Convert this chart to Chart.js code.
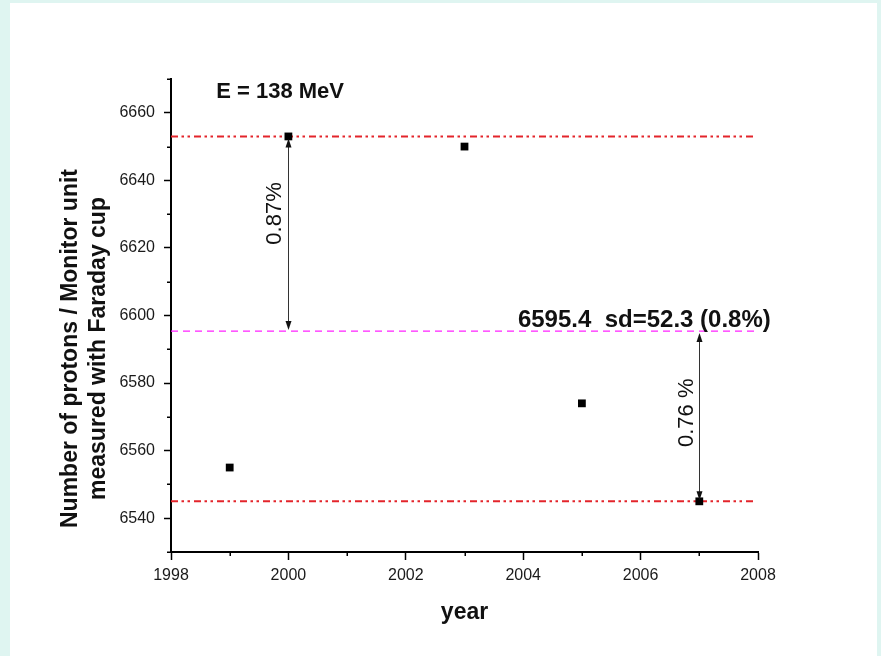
<!DOCTYPE html>
<html><head><meta charset="utf-8">
<script src="https://cdn.jsdelivr.net/npm/chart.js@4/dist/chart.umd.min.js"></script>
<style>
html,body{margin:0;padding:0;background:#dff5f1;}
#wrap{position:absolute;left:0;top:0;width:881px;height:656px;overflow:hidden;background:#dff5f1;}
#panel{position:absolute;left:10px;top:3px;width:867px;height:653px;background:#fff;}
canvas{position:absolute;left:0;top:0;}
</style></head><body>
<div id="wrap"><div id="panel"></div><canvas id="c" width="881" height="656"></canvas></div>
<script>
// ---- data ----
const years = [1999, 2000, 2003, 2005, 2007];
const protonsPerMU = [6555, 6653, 6650, 6574, 6545];
const meanValue = 6595.4;
const upperLimit = 6653;
const lowerLimit = 6545;
const xTickLabels = ['1998', '2000', '2002', '2004', '2006', '2008'];
const yTickLabels = ['6540', '6560', '6580', '6600', '6620', '6640', '6660'];
const xRange = [1998, 2008];
const yRange = [6530, 6670];
const refLineEnd = 2007.94;
const titleText = 'E = 138 MeV';
const meanText = '6595.4  sd=52.3 (0.8%)';
const upperPctText = '0.87%';
const lowerPctText = '0.76 %';
const xTitle = 'year';
const yTitle = ['Number of protons / Monitor unit', 'measured with Faraday cup'];

const FONT = '"Liberation Sans", Arial, sans-serif';

const points = years.map((yr, i) => ({x: yr, y: protonsPerMU[i]}));
const hLine = v => [{x: xRange[0], y: v}, {x: refLineEnd, y: v}];

const annot = {
  id: 'annot',
  afterDatasetsDraw(chart) {
    const ctx = chart.ctx;
    const xs = chart.scales.x, ys = chart.scales.y;
    const area = chart.chartArea;
    ctx.save();
    // minor ticks
    ctx.strokeStyle = '#000';
    ctx.lineWidth = 1.5;
    ys.ticks.forEach(t => {
      if (!yTickLabels.includes(String(t.value))) {
        const py = Math.round(ys.getPixelForValue(t.value)) + 0.25;
        ctx.beginPath(); ctx.moveTo(area.left - 4, py); ctx.lineTo(area.left, py); ctx.stroke();
      }
    });
    xs.ticks.forEach(t => {
      if (!xTickLabels.includes(String(t.value))) {
        const px = Math.round(xs.getPixelForValue(t.value)) + 0.25;
        ctx.beginPath(); ctx.moveTo(px, area.bottom); ctx.lineTo(px, area.bottom + 4); ctx.stroke();
      }
    });
    // arrows
    function arrow(xv, v1, v2) {
      const px = Math.round(xs.getPixelForValue(xv)) + 0.5;
      const p1 = ys.getPixelForValue(v1) + 2, p2 = ys.getPixelForValue(v2) - 1;
      ctx.strokeStyle = '#333'; ctx.lineWidth = 1;
      ctx.beginPath(); ctx.moveTo(px, p1 + 4); ctx.lineTo(px, p2 - 4); ctx.stroke();
      ctx.fillStyle = '#111';
      ctx.beginPath(); ctx.moveTo(px, p1); ctx.lineTo(px - 3, p1 + 9); ctx.lineTo(px + 3, p1 + 9); ctx.closePath(); ctx.fill();
      ctx.beginPath(); ctx.moveTo(px, p2); ctx.lineTo(px - 3, p2 - 9); ctx.lineTo(px + 3, p2 - 9); ctx.closePath(); ctx.fill();
    }
    arrow(2000, upperLimit, meanValue);
    arrow(2007, meanValue, lowerLimit);
    // texts
    ctx.fillStyle = '#111';
    ctx.textAlign = 'left'; ctx.textBaseline = 'alphabetic';
    ctx.font = 'bold 22px ' + FONT;
    ctx.fillText(titleText, xs.getPixelForValue(1998.77), ys.getPixelForValue(6664.3));
    ctx.font = 'bold 24px ' + FONT;
    ctx.fillText(meanText, xs.getPixelForValue(2003.91), ys.getPixelForValue(6596.7));
    function vtext(txt, xv, yv, font) {
      ctx.save();
      ctx.translate(xs.getPixelForValue(xv), ys.getPixelForValue(yv));
      ctx.rotate(-Math.PI / 2);
      ctx.font = font; ctx.textAlign = 'center'; ctx.textBaseline = 'middle';
      ctx.fillText(txt, 0, 0);
      ctx.restore();
    }
    vtext(upperPctText, 1999.77, 6630.2, '22px ' + FONT);
    vtext(lowerPctText, 2006.79, 6571.2, '22px ' + FONT);
    // y axis title
    const cy = (area.top + area.bottom) / 2 + 33;
    [71, 99].forEach((cx, i) => {
      ctx.save();
      ctx.translate(cx, cy);
      ctx.rotate(-Math.PI / 2);
      ctx.font = 'bold 23px ' + FONT; ctx.textAlign = 'center'; ctx.textBaseline = 'middle';
      ctx.fillText(yTitle[i], 0, 0);
      ctx.restore();
    });
    ctx.restore();
  }
};

new Chart(document.getElementById('c'), {
  type: 'scatter',
  data: {
    datasets: [
      {label: 'data', data: points, backgroundColor: '#000', borderColor: '#000',
       pointStyle: 'rect', pointRadius: 5.5, pointBorderWidth: 0},
      {label: 'upper', data: hLine(upperLimit), showLine: true, borderColor: '#e3242b',
       borderWidth: 2, borderDash: [7, 3.5, 2.5, 3.5, 2.5, 4], pointRadius: 0},
      {label: 'lower', data: hLine(lowerLimit), showLine: true, borderColor: '#e3242b',
       borderWidth: 2, borderDash: [7, 3.5, 2.5, 3.5, 2.5, 4], pointRadius: 0},
      {label: 'mean', data: hLine(meanValue), showLine: true, borderColor: '#ff22ff',
       borderWidth: 1.2, borderDash: [7, 5], pointRadius: 0}
    ]
  },
  options: {
    responsive: false, animation: false, devicePixelRatio: 1,
    layout: {padding: {left: 0, top: 79, right: 123, bottom: 0}},
    plugins: {legend: {display: false}, tooltip: {enabled: false}},
    scales: {
      x: {
        type: 'linear', min: xRange[0], max: xRange[1],
        afterFit: s => { s.height = 104; },
        grid: {drawOnChartArea: false, drawTicks: true, tickLength: 8, tickWidth: 1.5,
               tickColor: c => xTickLabels.includes(String(c.tick && c.tick.value)) ? '#000' : 'rgba(0,0,0,0)'},
        border: {display: true, color: '#000', width: 2},
        ticks: {stepSize: 1, autoSkip: false, maxRotation: 0, padding: 6, color: '#1a1a1a',
                font: {family: FONT, size: 16},
                callback: v => xTickLabels.includes(String(v)) ? String(v) : ''},
        title: {display: true, text: xTitle, color: '#111', padding: {top: 0, bottom: 30},
                font: {family: FONT, size: 23, weight: 'bold'}}
      },
      y: {
        type: 'linear', min: yRange[0], max: yRange[1],
        afterFit: s => { s.width = 171; },
        grid: {drawOnChartArea: false, drawTicks: true, tickLength: 7, tickWidth: 1.5,
               tickColor: c => yTickLabels.includes(String(c.tick && c.tick.value)) ? '#000' : 'rgba(0,0,0,0)'},
        border: {display: true, color: '#000', width: 2},
        ticks: {stepSize: 10, autoSkip: false, padding: 9, color: '#1a1a1a',
                font: {family: FONT, size: 16},
                callback: v => yTickLabels.includes(String(v)) ? String(v) : ''}
      }
    }
  },
  plugins: [annot]
});
</script>
</body></html>
